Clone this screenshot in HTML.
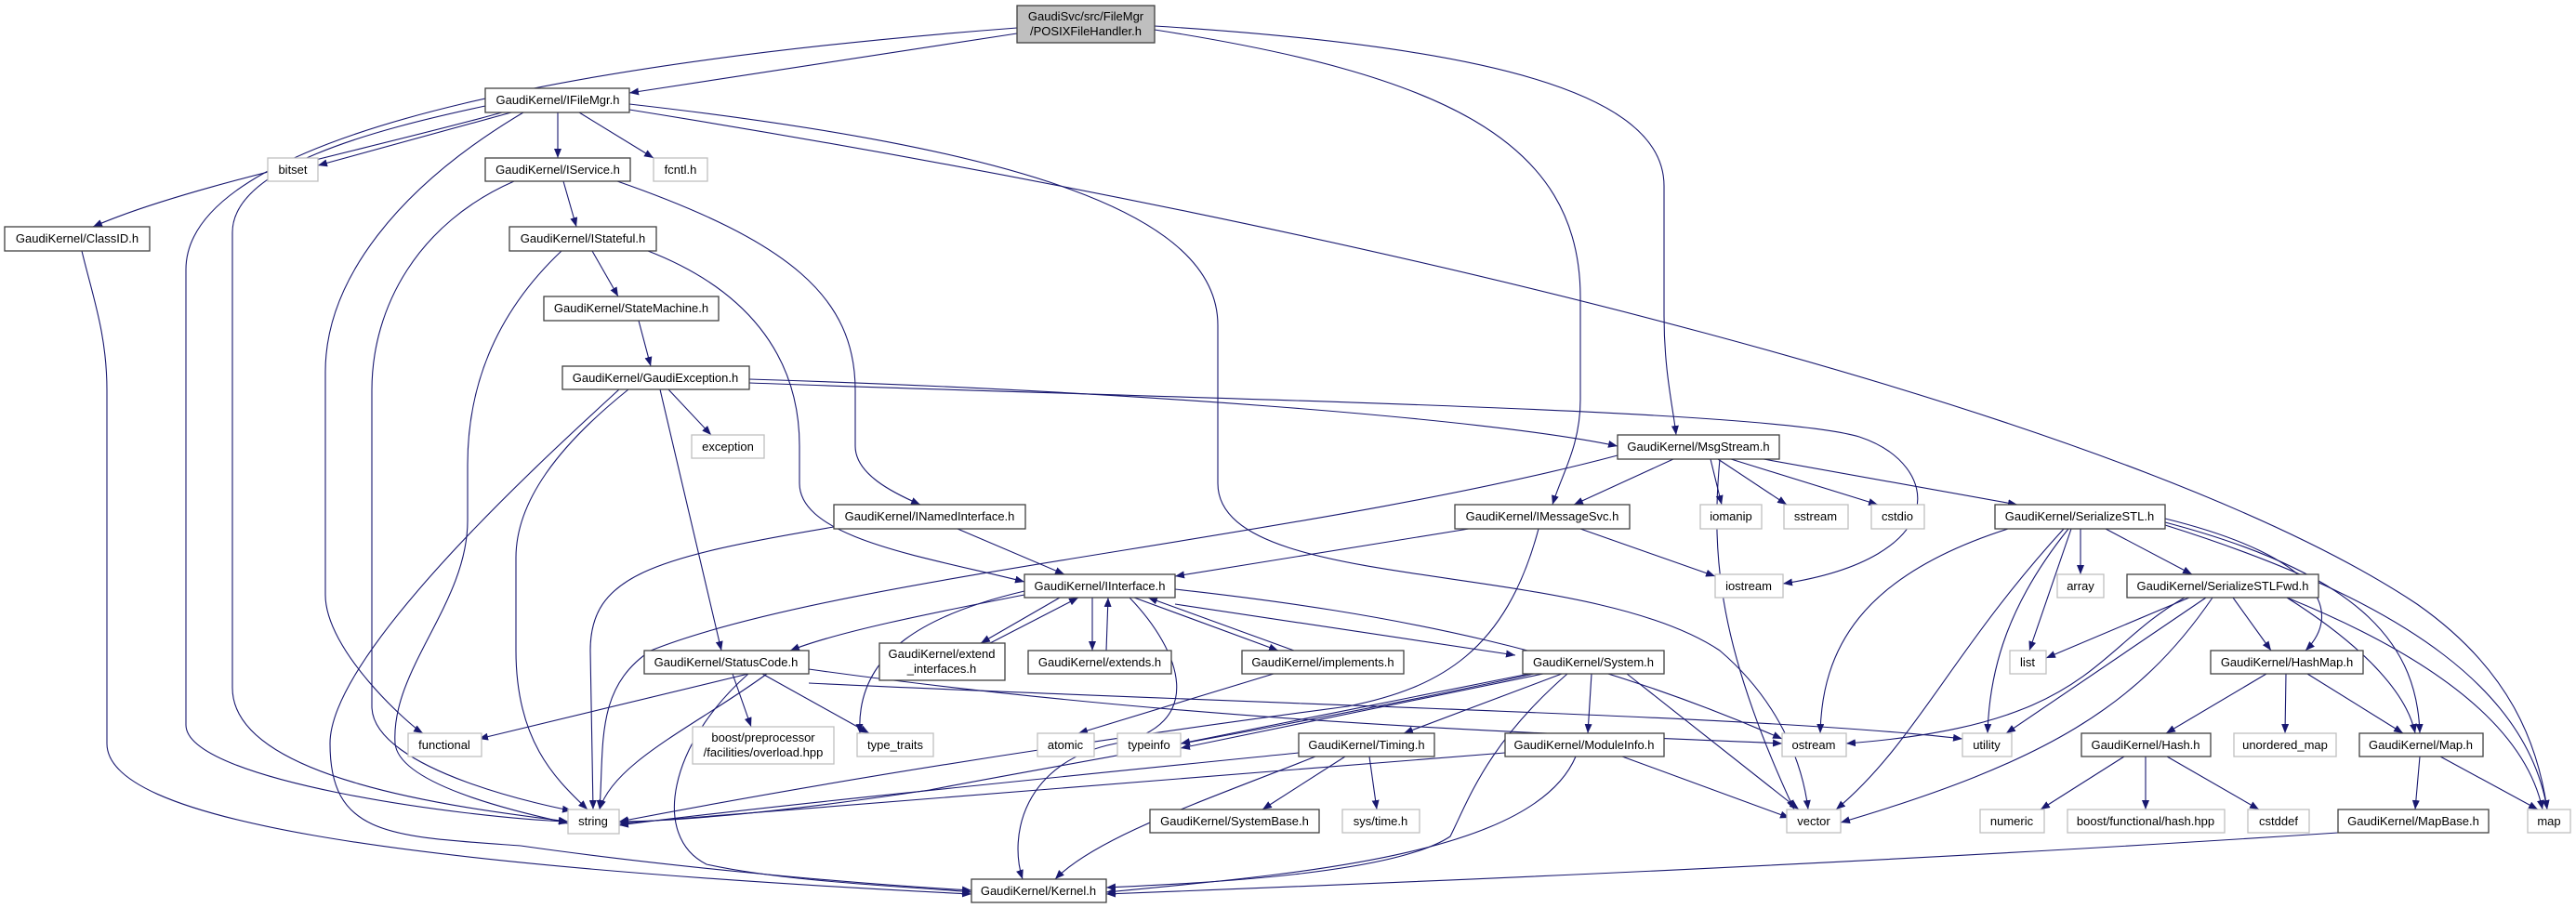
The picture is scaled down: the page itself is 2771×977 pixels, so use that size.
<!DOCTYPE html>
<html><head><meta charset="utf-8"><style>
html,body{margin:0;padding:0;background:#fff}
svg{display:block}
text{font-family:"Liberation Sans",sans-serif;font-size:13px;fill:#000}
.n{fill:#fff;stroke:#404040;stroke-width:1.3}
.s{fill:#fff;stroke:#bfbfbf;stroke-width:1.3}
.e path{fill:none;stroke:#191970;stroke-width:1.1;marker-end:url(#a)}
</style></head><body>
<svg width="2771" height="977" viewBox="0 0 2771 977" xmlns="http://www.w3.org/2000/svg">
<defs><marker id="a" markerUnits="userSpaceOnUse" markerWidth="11" markerHeight="8" refX="10" refY="4" orient="auto"><path d="M0,0 L10,4 L0,8 z" fill="#191970"/></marker></defs>
<g class="e">
<path d="M1094,36 L677,100"/>
<path d="M1094,30 C700,60 200,130 200,290 L200,780 C200,840 500,880 611,884"/>
<path d="M1242,32 C1550,80 1700,150 1700,320 L1700,430 C1700,480 1680,510 1670,543"/>
<path d="M1242,28 C1600,50 1790,100 1790,200 L1790,340 C1790,400 1800,440 1803,468"/>
<path d="M540,121 C400,160 200,200 100,244"/>
<path d="M550,121 L342,178"/>
<path d="M600,121 L600,170"/>
<path d="M623,121 L703,170"/>
<path d="M522,114 C400,140 250,180 250,250 L250,740 C250,840 500,870 611,884"/>
<path d="M563,121 C430,200 350,300 350,400 L350,640 C350,700 440,780 455,789"/>
<path d="M677,118 C1500,250 2300,450 2600,650 C2700,720 2730,800 2740,871"/>
<path d="M677,112 C1100,160 1310,230 1310,350 L1310,520 C1310,640 1700,600 1850,700 C1920,760 1940,830 1945,871"/>
<path d="M606,195 L620,244"/>
<path d="M553,195 C450,240 400,330 400,420 L400,760 C400,830 600,870 615,872"/>
<path d="M664,195 C850,260 920,320 920,420 L920,480 C920,510 960,530 990,543"/>
<path d="M637,270 L665,319"/>
<path d="M604,270 C530,340 503,420 503,500 L503,560 C503,650 420,720 425,800 C430,850 590,880 611,886"/>
<path d="M697,270 C800,310 860,380 860,480 L860,520 C860,580 1000,600 1102,626"/>
<path d="M687,345 L700,394"/>
<path d="M719,419 L765,468"/>
<path d="M676,419 C600,480 555,540 555,600 L555,700 C555,800 600,840 632,871"/>
<path d="M710,419 L776,700"/>
<path d="M666,419 C600,480 355,700 355,800 C355,900 420,900 560,910 C700,930 900,950 1045,958"/>
<path d="M88,270 C100,320 115,360 115,420 L115,800 C115,880 400,930 1045,962"/>
<path d="M806,408 C1200,420 1600,450 1740,480"/>
<path d="M806,412 C1300,430 1900,440 2000,470 C2090,500 2100,600 1918,628"/>
<path d="M1800,494 L1693,543"/>
<path d="M1840,494 L1852,543"/>
<path d="M1848,494 L1922,543"/>
<path d="M1862,494 L2020,543"/>
<path d="M1897,494 L2170,543"/>
<path d="M1740,490 C1400,580 900,620 700,700 C640,740 650,800 645,871"/>
<path d="M1850,494 C1840,600 1850,700 1930,871"/>
<path d="M1580,569 L1264,620"/>
<path d="M1700,569 L1845,620"/>
<path d="M1655,569 C1620,700 1550,740 1450,760 C1300,780 1000,820 666,884"/>
<path d="M1030,569 L1145,618"/>
<path d="M897,567 C700,600 635,620 635,700 L638,871"/>
<path d="M1102,640 C1000,660 900,680 850,700"/>
<path d="M1140,643 L1055,692"/>
<path d="M1065,692 L1160,643"/>
<path d="M1175,643 L1175,700"/>
<path d="M1190,700 L1192,643"/>
<path d="M1220,643 L1375,700"/>
<path d="M1392,700 L1235,643"/>
<path d="M1264,650 L1630,705"/>
<path d="M1102,636 C1000,660 920,700 925,789"/>
<path d="M1215,643 C1270,700 1300,780 1200,800 C1100,820 1085,900 1100,946"/>
<path d="M1264,634 C1500,660 1700,700 1917,795"/>
<path d="M1370,725 L1160,789"/>
<path d="M805,725 L515,795"/>
<path d="M825,725 C750,780 660,820 645,871"/>
<path d="M788,725 L808,782"/>
<path d="M820,725 L935,789"/>
<path d="M805,725 C720,800 700,900 760,930 C850,950 1000,955 1045,960"/>
<path d="M870,720 C1300,780 1700,790 1917,800"/>
<path d="M870,735 C1400,760 1900,770 2111,795"/>
<path d="M1645,725 L1270,800"/>
<path d="M1660,725 L1270,805"/>
<path d="M1650,725 C1400,780 1100,830 1000,850 C800,880 700,884 666,884"/>
<path d="M1680,725 L1510,789"/>
<path d="M1712,725 L1708,789"/>
<path d="M1686,725 C1600,800 1580,860 1560,900 C1500,940 1300,950 1190,955"/>
<path d="M1750,725 L1935,871"/>
<path d="M1447,814 L1358,871"/>
<path d="M1473,814 L1481,871"/>
<path d="M1415,814 C1300,860 1180,900 1135,946"/>
<path d="M1397,810 C1100,840 800,870 666,888"/>
<path d="M1619,810 L666,886"/>
<path d="M1695,814 C1650,920 1400,940 1190,960"/>
<path d="M1745,814 L1925,880"/>
<path d="M2160,569 C2000,620 1960,700 1958,789"/>
<path d="M2220,569 C2100,700 2060,800 1975,871"/>
<path d="M2228,569 L2183,700"/>
<path d="M2225,569 C2160,650 2140,720 2138,789"/>
<path d="M2238,569 L2238,618"/>
<path d="M2265,569 L2358,618"/>
<path d="M2329,558 C2500,600 2520,660 2480,700"/>
<path d="M2329,562 C2550,620 2600,700 2603,789"/>
<path d="M2329,565 C2600,650 2720,750 2740,871"/>
<path d="M2355,643 L2201,708"/>
<path d="M2350,643 C2250,700 2250,780 1986,800"/>
<path d="M2373,643 L2158,789"/>
<path d="M2380,643 C2300,760 2200,820 1980,885"/>
<path d="M2402,643 L2443,700"/>
<path d="M2460,643 C2550,700 2590,750 2598,789"/>
<path d="M2460,643 C2650,720 2720,800 2735,871"/>
<path d="M2438,725 L2330,789"/>
<path d="M2459,725 L2458,789"/>
<path d="M2482,725 L2585,789"/>
<path d="M2285,814 L2195,871"/>
<path d="M2308,814 L2308,871"/>
<path d="M2331,814 L2430,871"/>
<path d="M2603,814 L2598,871"/>
<path d="M2625,814 L2730,871"/>
<path d="M2515,896 C2000,930 1500,950 1190,962"/>
</g>
<g text-anchor="middle">
<rect x="1094" y="6" width="148" height="40" fill="#bfbfbf" stroke="#404040" stroke-width="1.3"/>
<text x="1168" y="22">GaudiSvc/src/FileMgr</text><text x="1168" y="38">/POSIXFileHandler.h</text>
<rect class="n" x="522" y="95" width="155" height="26"/><text x="600" y="112">GaudiKernel/IFileMgr.h</text>
<rect class="s" x="288" y="170" width="54" height="25"/><text x="315" y="187">bitset</text>
<rect class="n" x="522" y="170" width="156" height="25"/><text x="600" y="187">GaudiKernel/IService.h</text>
<rect class="s" x="703" y="170" width="58" height="25"/><text x="732" y="187">fcntl.h</text>
<rect class="n" x="5" y="244" width="156" height="26"/><text x="83" y="261">GaudiKernel/ClassID.h</text>
<rect class="n" x="548" y="244" width="158" height="26"/><text x="627" y="261">GaudiKernel/IStateful.h</text>
<rect class="n" x="585" y="319" width="188" height="26"/><text x="679" y="336">GaudiKernel/StateMachine.h</text>
<rect class="n" x="605" y="394" width="201" height="25"/><text x="705" y="411">GaudiKernel/GaudiException.h</text>
<rect class="s" x="744" y="468" width="78" height="25"/><text x="783" y="485">exception</text>
<rect class="n" x="1740" y="468" width="174" height="26"/><text x="1827" y="485">GaudiKernel/MsgStream.h</text>
<rect class="n" x="897" y="543" width="206" height="26"/><text x="1000" y="560">GaudiKernel/INamedInterface.h</text>
<rect class="n" x="1565" y="543" width="188" height="26"/><text x="1659" y="560">GaudiKernel/IMessageSvc.h</text>
<rect class="s" x="1829" y="543" width="66" height="26"/><text x="1862" y="560">iomanip</text>
<rect class="s" x="1919" y="543" width="69" height="26"/><text x="1953" y="560">sstream</text>
<rect class="s" x="2013" y="543" width="57" height="26"/><text x="2041" y="560">cstdio</text>
<rect class="n" x="2146" y="543" width="183" height="26"/><text x="2237" y="560">GaudiKernel/SerializeSTL.h</text>
<rect class="n" x="1102" y="618" width="162" height="25"/><text x="1183" y="635">GaudiKernel/IInterface.h</text>
<rect class="s" x="1845" y="618" width="73" height="25"/><text x="1881" y="635">iostream</text>
<rect class="s" x="2213" y="618" width="50" height="25"/><text x="2238" y="635">array</text>
<rect class="n" x="2288" y="618" width="206" height="25"/><text x="2391" y="635">GaudiKernel/SerializeSTLFwd.h</text>
<rect class="n" x="693" y="700" width="177" height="25"/><text x="781" y="717">GaudiKernel/StatusCode.h</text>
<rect class="n" x="946" y="692" width="135" height="40"/><text x="1013" y="708">GaudiKernel/extend</text><text x="1013" y="724">_interfaces.h</text>
<rect class="n" x="1106" y="700" width="154" height="25"/><text x="1183" y="717">GaudiKernel/extends.h</text>
<rect class="n" x="1336" y="700" width="174" height="25"/><text x="1423" y="717">GaudiKernel/implements.h</text>
<rect class="n" x="1638" y="700" width="152" height="25"/><text x="1714" y="717">GaudiKernel/System.h</text>
<rect class="s" x="2162" y="700" width="39" height="25"/><text x="2181" y="717">list</text>
<rect class="n" x="2378" y="700" width="164" height="25"/><text x="2460" y="717">GaudiKernel/HashMap.h</text>
<rect class="s" x="745" y="782" width="152" height="40"/><text x="821" y="798">boost/preprocessor</text><text x="821" y="814">/facilities/overload.hpp</text>
<rect class="s" x="439" y="789" width="79" height="25"/><text x="478" y="806">functional</text>
<rect class="s" x="922" y="789" width="82" height="25"/><text x="963" y="806">type_traits</text>
<rect class="s" x="1116" y="789" width="61" height="25"/><text x="1146" y="806">atomic</text>
<rect class="s" x="1202" y="789" width="68" height="25"/><text x="1236" y="806">typeinfo</text>
<rect class="n" x="1397" y="789" width="146" height="25"/><text x="1470" y="806">GaudiKernel/Timing.h</text>
<rect class="n" x="1619" y="789" width="171" height="25"/><text x="1704" y="806">GaudiKernel/ModuleInfo.h</text>
<rect class="s" x="1917" y="789" width="69" height="25"/><text x="1951" y="806">ostream</text>
<rect class="s" x="2111" y="789" width="53" height="25"/><text x="2137" y="806">utility</text>
<rect class="n" x="2239" y="789" width="139" height="25"/><text x="2308" y="806">GaudiKernel/Hash.h</text>
<rect class="s" x="2403" y="789" width="110" height="25"/><text x="2458" y="806">unordered_map</text>
<rect class="n" x="2538" y="789" width="133" height="25"/><text x="2604" y="806">GaudiKernel/Map.h</text>
<rect class="s" x="611" y="871" width="55" height="26"/><text x="638" y="888">string</text>
<rect class="n" x="1237" y="871" width="182" height="25"/><text x="1328" y="888">GaudiKernel/SystemBase.h</text>
<rect class="s" x="1444" y="871" width="83" height="25"/><text x="1485" y="888">sys/time.h</text>
<rect class="s" x="1922" y="871" width="58" height="25"/><text x="1951" y="888">vector</text>
<rect class="s" x="2130" y="871" width="69" height="25"/><text x="2164" y="888">numeric</text>
<rect class="s" x="2224" y="871" width="169" height="25"/><text x="2308" y="888">boost/functional/hash.hpp</text>
<rect class="s" x="2418" y="871" width="66" height="25"/><text x="2451" y="888">cstddef</text>
<rect class="n" x="2515" y="871" width="162" height="25"/><text x="2596" y="888">GaudiKernel/MapBase.h</text>
<rect class="s" x="2719" y="871" width="46" height="25"/><text x="2742" y="888">map</text>
<rect class="n" x="1045" y="946" width="145" height="25"/><text x="1117" y="963">GaudiKernel/Kernel.h</text>
</g>
</svg>
</body></html>
